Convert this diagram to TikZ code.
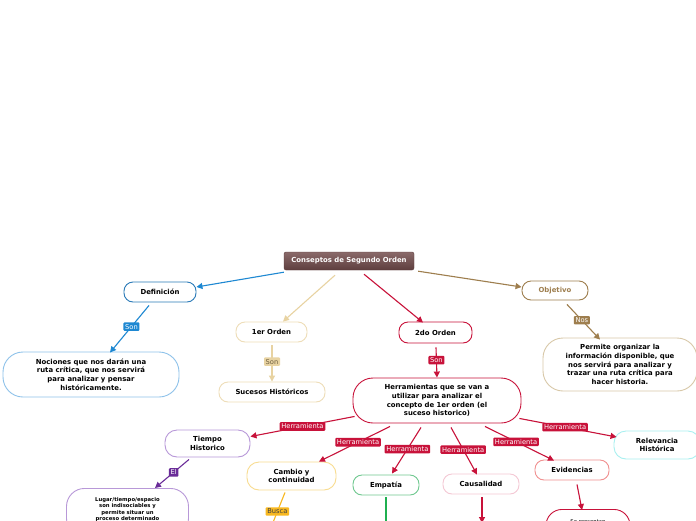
\documentclass[tikz,border=0pt]{standalone}
\usepackage{fontspec}
\setmainfont{DejaVu Sans}
\usetikzlibrary{arrows.meta,calc}
\definecolor{cblue}{HTML}{1E88D2}
\definecolor{cblueB}{HTML}{2A7AB8}
\definecolor{cblueL}{HTML}{8EC2EA}
\definecolor{cbeige}{HTML}{E8D3A2}
\definecolor{cbeigeT}{HTML}{6E5E40}
\definecolor{cbeigeL}{HTML}{EEDDB8}
\definecolor{ccrim}{HTML}{C8123A}
\definecolor{ctan}{HTML}{9E7E4E}
\definecolor{ctanL}{HTML}{D8C8A8}
\definecolor{cpurp}{HTML}{6A2C98}
\definecolor{cpurpL}{HTML}{B898D8}
\definecolor{cyell}{HTML}{F8B820}
\definecolor{cyellL}{HTML}{F8DC90}
\definecolor{cgreen}{HTML}{1FB050}
\definecolor{cgreenL}{HTML}{70C890}
\definecolor{cpinkL}{HTML}{F4C8D4}
\definecolor{csalm}{HTML}{F09090}
\definecolor{ccyan}{HTML}{A8F0F0}
\definecolor{rootA}{HTML}{8A6A6A}
\definecolor{rootB}{HTML}{5E3E3E}
\begin{document}
\begin{tikzpicture}[x=1pt,y=-1pt,
  box/.style={draw, line width=0.9pt, rounded corners=#1, align=center, inner sep=0pt,
    font=\fontsize{6.9}{8.7}\selectfont\bfseries, text=black},
  box/.default=9pt,
  lbl/.style={fill=#1, text=white, font=\fontsize{6.7}{7.5}\selectfont, inner sep=1.7pt, rounded corners=1pt},
  conn/.style={draw=#1, line width=1.1pt},
  arr/.style={conn=#1, -{Triangle[length=6pt,width=6pt]}},
]
\fill[white] (0,0) rectangle (696,520);
\clip (0,0) rectangle (696,520);

% nodes
\node[box=2pt, draw=rootB, top color=rootA, bottom color=rootB, line width=0.4pt, text=white,
  minimum width=130pt, minimum height=18pt] (root) at (349,261) {Conseptos de Segundo Orden};
\node[box, draw=cblueB, minimum width=72pt, minimum height=20pt] (def) at (160,292) {Definición};
\node[box=20pt, draw=cblueL, minimum width=176pt, minimum height=45pt] (noc) at (91,374.5)
  {Nociones que nos darán una\\ruta crítica, que nos servirá\\para analizar y pensar\\históricamente.};
\node[box, draw=cbeigeL, minimum width=71pt, minimum height=20pt] (ord1) at (271.5,332) {1er Orden};
\node[box, draw=cbeigeL, minimum width=106pt, minimum height=20pt] (suc) at (272,392) {Sucesos Históricos};
\node[box, draw=ccrim, minimum width=73pt, minimum height=21pt] (ord2) at (435.5,332.5) {2do Orden};
\node[box=20pt, draw=ccrim, minimum width=168pt, minimum height=45pt] (herr) at (437,400.5)
  {Herramientas que se van a\\utilizar para analizar el\\concepto de 1er orden (el\\suceso historico)};
\node[box, draw=ctan, text=ctan, minimum width=66pt, minimum height=19pt] (obj) at (555,290.5) {Objetivo};
\node[box=20pt, draw=ctanL, minimum width=154pt, minimum height=53pt] (perm) at (620,364.5)
  {Permite organizar la\\información disponible, que\\nos servirá para analizar y\\trazar una ruta crítica para\\hacer historia.};
\node[box=12pt, draw=cpurpL, minimum width=85pt, minimum height=27pt] (tiem) at (207.5,443.5) {Tiempo\\Historico};
\node[box=12pt, draw=cyellL, minimum width=89pt, minimum height=28pt] (camb) at (291.5,476) {Cambio y\\continuidad};
\node[box, draw=cgreenL, minimum width=66pt, minimum height=20pt] (emp) at (386,485) {Empatía};
\node[box, draw=cpinkL, minimum width=76pt, minimum height=20pt] (caus) at (481,484) {Causalidad};
\node[box, draw=csalm, minimum width=74pt, minimum height=20pt] (evid) at (572,470) {Evidencias};
\node[box=12pt, draw=ccyan, minimum width=86pt, minimum height=28pt] (rel) at (657,445) {Relevancia\\Histórica};
\node[box=18pt, draw=cpurpL, minimum width=122pt, minimum height=48pt, anchor=north,
  font=\fontsize{5.3}{6.5}\selectfont\bfseries] (lug) at (127.5,488)
  {Lugar/tiempo/espacio\\son indisociables y\\permite situar un\\proceso determinado\\};
\node[box=16pt, draw=ccrim, minimum width=84pt, minimum height=40pt, anchor=north,
  font=\fontsize{5.3}{6.6}\selectfont] (se) at (588,509) {Se presentan\\\strut\\\strut};

\coordinate (busc) at (266,540);
\coordinate (empd) at (386,540);
\coordinate (causd) at (482,523);
\coordinate (reld) at (712,477);

% connectors
\draw[arr=cblue] ($(root.south west)+(0,2)$) -- ($(def.east)+(0,-5)$);
\draw[arr=cbeige] ($(root.south)+(-14,5)$) -- ($(ord1.north)+(11.5,0)$);
\draw[arr=ccrim] ($(root.south)+(15,4)$) -- ($(ord2.north)+(-12.5,1)$);
\draw[arr=ctan] ($(root.south east)+(4,1)$) -- ($(obj.west)+(0,-3.5)$);

\draw[arr=cblue] ($(def.south)+(-11,3)$) -- node[lbl=cblue, pos=0.45] {Son} ($(noc.north)+(19,1)$);
\draw[arr=cbeige] ($(ord1.south)+(0.5,3)$) -- node[lbl=cbeige, text=cbeigeT, pos=0.45] {Son} (suc.north);
\draw[arr=ccrim] ($(ord2.south)+(0.5,4)$) -- node[lbl=ccrim, pos=0.42] {Son} (herr.north);
\draw[arr=ctan] ($(obj.south)+(12,4)$) -- node[lbl=ctan, pos=0.45] {Nos} ($(perm.north)+(-20,2)$);

\draw[arr=ccrim] ($(herr.south west)+(2,-7)$) -- node[lbl=ccrim, pos=0.5] {Herramienta} ($(tiem.east)+(0,-7)$);
\draw[arr=ccrim] ($(herr.south)+(-47,3)$) -- node[lbl=ccrim, pos=0.45] {Herramienta} ($(camb.north)+(27.5,0)$);
\draw[arr=ccrim] ($(herr.south)+(-16,4)$) -- node[lbl=ccrim, pos=0.47] {Herramienta} ($(emp.north)+(6,-1)$);
\draw[arr=ccrim] ($(herr.south)+(14,4)$) -- node[lbl=ccrim, pos=0.47] {Herramienta} ($(caus.north)+(-4,1)$);
\draw[arr=ccrim] ($(herr.south)+(48,3)$) -- node[lbl=ccrim, pos=0.45] {Herramienta} ($(evid.north)+(-18,1)$);
\draw[arr=ccrim] ($(herr.south east)+(-2,-5)$) -- node[lbl=ccrim, pos=0.47] {Herramienta} ($(rel.west)+(3,-8)$);

\draw[arr=cpurp] ($(tiem.south)+(-18.5,2)$) -- node[lbl=cpurp, pos=0.45] {El} ($(lug.north)+(27.5,0)$);
\draw[conn=cyell] ($(camb.south)+(-6.5,2)$) -- node[lbl=cyell, text=black!75, pos=0.4] {Busca} (busc);
\draw[conn=cgreen] ($(emp.south)+(0,2)$) -- (empd);
\draw[arr=ccrim] ($(caus.south)+(1,3)$) -- (causd);
\draw[arr=ccrim] ($(evid.south)+(5,4)$) -- ($(se.north)+(-6,1)$);
\draw[conn=ccrim] ($(rel.south east)+(-3,1)$) -- (reld);
\end{tikzpicture}
\end{document}
